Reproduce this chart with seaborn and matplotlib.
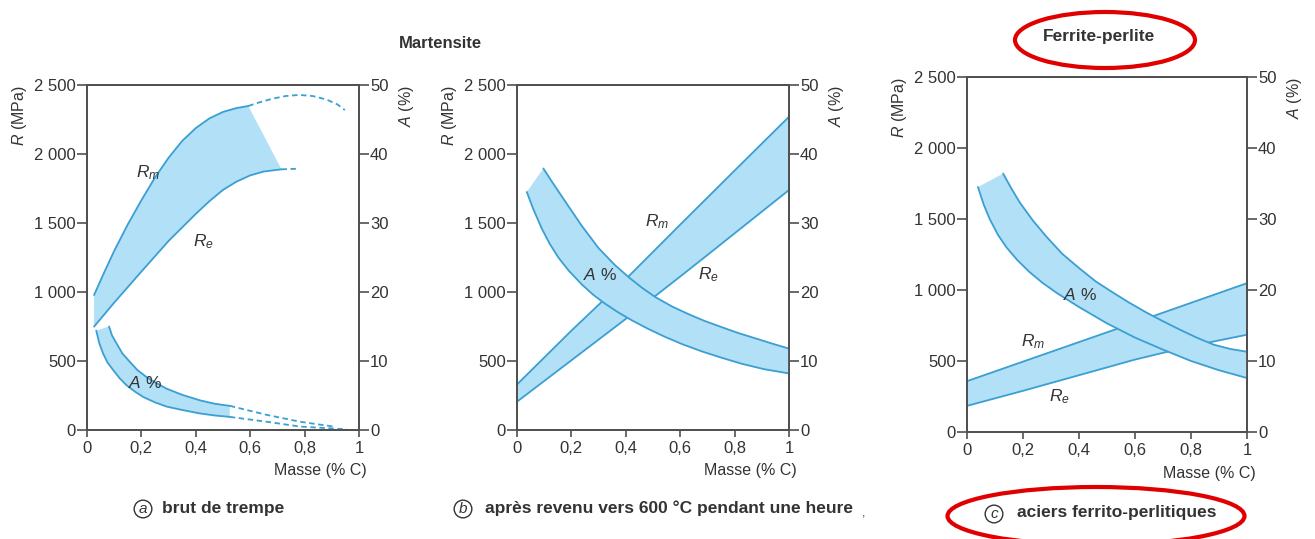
import matplotlib
matplotlib.use("Agg")
import numpy as np
import pandas as pd
import seaborn as sns
import matplotlib.pyplot as plt
from matplotlib.patches import Ellipse

# ---------------- data ----------------
x_ticks = [0, 0.2, 0.4, 0.6, 0.8, 1]
x_ticklabels = ["0", "0,2", "0,4", "0,6", "0,8", "1"]
r_ticks = [0, 500, 1000, 1500, 2000, 2500]
r_ticklabels = ["0", "500", "1 000", "1 500", "2 000", "2 500"]
a_ticks = [0, 10, 20, 30, 40, 50]
a_ticklabels = ["0", "10", "20", "30", "40", "50"]

# (a) brut de trempe
a_rm_x = [0.026, 0.06, 0.10, 0.15, 0.20, 0.25, 0.30, 0.35, 0.40, 0.45, 0.50, 0.55, 0.593]
a_rm_y = [978, 1128, 1298, 1490, 1665, 1830, 1973, 2095, 2188, 2258, 2305, 2333, 2348]
a_rm_dash_x = [0.593, 0.63, 0.68, 0.73, 0.78, 0.83, 0.88, 0.92, 0.948]
a_rm_dash_y = [2348, 2372, 2400, 2420, 2428, 2420, 2395, 2360, 2319]
a_re_x = [0.026, 0.10, 0.20, 0.30, 0.40, 0.45, 0.50, 0.55, 0.60, 0.65, 0.715]
a_re_y = [749, 923, 1148, 1370, 1566, 1658, 1740, 1800, 1845, 1873, 1889]
a_re_dash_x = [0.715, 0.77]
a_re_dash_y = [1889, 1893]
a_alo_x = [0.034, 0.045, 0.059, 0.075, 0.096, 0.12, 0.145, 0.175, 0.206, 0.25, 0.292, 0.35, 0.415, 0.47, 0.525]
a_alo_y = [14.4, 12.6, 11.1, 9.8, 8.7, 7.5, 6.5, 5.6, 4.8, 4.0, 3.4, 2.9, 2.4, 2.1, 1.9]
a_alo_dash_x = [0.525, 0.66, 0.783, 0.955]
a_alo_dash_y = [1.9, 1.2, 0.5, 0.1]
a_ahi_x = [0.081, 0.092, 0.108, 0.13, 0.157, 0.185, 0.218, 0.255, 0.292, 0.35, 0.415, 0.47, 0.525]
a_ahi_y = [15.0, 13.7, 12.6, 11.1, 9.9, 8.7, 7.7, 6.8, 6.0, 5.1, 4.3, 3.8, 3.5]
a_ahi_dash_x = [0.525, 0.66, 0.783, 0.906]
a_ahi_dash_y = [3.5, 2.2, 1.2, 0.5]

# (b) après revenu
b_rm_x = [0, 0.2, 0.409, 0.605, 0.8, 1]
b_rm_y = [330, 720, 1111, 1498, 1880, 2270]
b_re_x = [0, 0.1, 0.2, 0.3, 0.4, 0.5, 0.6, 0.7, 0.8, 0.9, 1]
b_re_y = [205, 355, 505, 655, 805, 958, 1112, 1268, 1425, 1582, 1739]
b_alo_x = [0.036, 0.06, 0.091, 0.12, 0.152, 0.19, 0.238, 0.28, 0.324, 0.37, 0.422, 0.48,
           0.544, 0.61, 0.679, 0.75, 0.826, 0.91, 1]
b_alo_y = [34.5, 32.0, 29.2, 27.0, 25.0, 23.1, 21.1, 19.6, 18.3, 17.1, 15.9, 14.7,
           13.5, 12.4, 11.4, 10.5, 9.6, 8.8, 8.2]
b_ahi_x = [0.097, 0.13, 0.176, 0.238, 0.299, 0.36, 0.415, 0.46, 0.507, 0.57, 0.63, 0.69,
           0.753, 0.81, 0.875, 0.94, 1]
b_ahi_y = [37.9, 35.9, 33.2, 29.6, 26.4, 23.9, 22.0, 20.6, 19.3, 17.9, 16.8, 15.8,
           14.9, 14.1, 13.3, 12.5, 11.8]

# (c) aciers ferrito-perlitiques
c_rm_x = [0, 0.25, 0.5, 0.75, 1]
c_rm_y = [358, 530, 702, 875, 1048]
c_re_x = [0, 0.2, 0.4, 0.6, 0.8, 1]
c_re_y = [184, 290, 400, 510, 605, 685]
c_alo_x = [0.039, 0.06, 0.081, 0.11, 0.141, 0.18, 0.224, 0.27, 0.32, 0.4, 0.5, 0.6,
           0.7, 0.8, 0.9, 1]
c_alo_y = [34.5, 32.0, 30.0, 27.8, 26.0, 24.2, 22.5, 21.0, 19.6, 17.6, 15.3, 13.3,
           11.6, 10.0, 8.7, 7.6]
c_ahi_x = [0.129, 0.16, 0.189, 0.235, 0.284, 0.34, 0.403, 0.46, 0.523, 0.58, 0.642,
           0.7, 0.761, 0.82, 0.881, 0.94, 1]
c_ahi_y = [36.4, 34.2, 32.3, 29.8, 27.5, 25.1, 23.0, 21.2, 19.6, 18.2, 16.8,
           15.6, 14.4, 13.3, 12.3, 11.7, 11.3]

# ---------------- style ----------------
sns.set_theme(style="white")
plt.rcParams["font.family"] = ["Liberation Sans", "DejaVu Sans"]
plt.rcParams["mathtext.fontset"] = "custom"
plt.rcParams["mathtext.it"] = "Liberation Sans:italic"
plt.rcParams["mathtext.rm"] = "Liberation Sans"

FILL = "#b2e0f6"
LINE = "#3a9fd2"
SPINE = "#505050"
TXT = "#333333"
W, H = 1315, 539

fig = plt.figure(figsize=(W / 100, H / 100), dpi=100)


def px_axes(l, t, r, b):
    return fig.add_axes([l / W, 1 - b / H, (r - l) / W, (b - t) / H])


def curve(ax, x, y, dashed=False):
    sns.lineplot(x=x, y=y, ax=ax, color=LINE, lw=1.3, sort=False,
                 estimator=None, legend=False,
                 linestyle=(0, (3, 2)) if dashed else "-")


def band(ax, x1, y1, x2, y2):
    ax.fill(np.r_[x1, x2[::-1]], np.r_[y1, y2[::-1]], color=FILL, lw=0, zorder=1)


def setup(ax, ax2):
    ax.set_xlim(0, 1)
    ax.set_ylim(0, 2500)
    ax2.set_ylim(0, 50)
    ax.set_xticks(x_ticks, x_ticklabels)
    ax.set_yticks(r_ticks, r_ticklabels)
    ax2.set_yticks(a_ticks, a_ticklabels)
    for a in (ax, ax2):
        for s in a.spines.values():
            s.set_visible(True)
            s.set_color(SPINE)
            s.set_linewidth(1.3)
        a.tick_params(direction="out", length=7, width=1.2, color=SPINE,
                      labelsize=12, labelcolor=TXT, pad=1)
    ax.tick_params(axis="x", length=5, pad=3)
    ax.tick_params(axis="y", left=True, right=False)
    ax.tick_params(axis="x", bottom=True)
    ax2.tick_params(axis="y", right=True, left=False)
    ax.set_ylabel(r"$R$ (MPa)", loc="top", fontsize=11.5, color=TXT, labelpad=4)
    ax2.set_ylabel(r"$A$ (%)", loc="top", fontsize=11.5, color=TXT, labelpad=6)
    ax.set_xlabel("Masse (% C)", fontsize=11.5, color=TXT, ha="right")
    ax.xaxis.set_label_coords(1.03, -0.095)
    ax.grid(False)
    ax2.grid(False)


def label(ax, ax2, x, y, s):
    # drawn on the top (twin) axes so the bands never hide it, in R coordinates
    ax2.text(x, y, s, transform=ax.transData, fontsize=12.5, color=TXT,
             ha="center", va="center", zorder=5)


# ---- panel a ----
axa = px_axes(87, 85, 359, 430)
axa2 = axa.twinx()
band(axa, a_rm_x, a_rm_y, a_re_x, a_re_y)
curve(axa, a_rm_x, a_rm_y)
curve(axa, a_rm_dash_x, a_rm_dash_y, dashed=True)
curve(axa, a_re_x, a_re_y)
curve(axa, a_re_dash_x, a_re_dash_y, dashed=True)
band(axa2, a_alo_x, a_alo_y, a_ahi_x, a_ahi_y)
curve(axa2, a_alo_x, a_alo_y)
curve(axa2, a_alo_dash_x, a_alo_dash_y, dashed=True)
curve(axa2, a_ahi_x, a_ahi_y)
curve(axa2, a_ahi_dash_x, a_ahi_dash_y, dashed=True)
setup(axa, axa2)
label(axa, axa2, 0.224, 1868, r"$R_m$")
label(axa, axa2, 0.427, 1365, r"$R_e$")
label(axa, axa2, 0.212, 340, r"$A$ %")

# ---- panel b ----
axb = px_axes(517, 85, 789, 430)
axb2 = axb.twinx()
band(axb, b_rm_x, b_rm_y, b_re_x, b_re_y)
curve(axb, b_rm_x, b_rm_y)
curve(axb, b_re_x, b_re_y)
band(axb2, b_alo_x, b_alo_y, b_ahi_x, b_ahi_y)
curve(axb2, b_alo_x, b_alo_y)
curve(axb2, b_ahi_x, b_ahi_y)
setup(axb, axb2)
label(axb, axb2, 0.514, 1509, r"$R_m$")
label(axb, axb2, 0.305, 1123, r"$A$ %")
label(axb, axb2, 0.703, 1123, r"$R_e$")

# ---- panel c ----
axc = px_axes(967, 77, 1247, 432)
axc2 = axc.twinx()
band(axc, c_rm_x, c_rm_y, c_re_x, c_re_y)
curve(axc, c_rm_x, c_rm_y)
curve(axc, c_re_x, c_re_y)
band(axc2, c_alo_x, c_alo_y, c_ahi_x, c_ahi_y)
curve(axc2, c_alo_x, c_alo_y)
curve(axc2, c_ahi_x, c_ahi_y)
setup(axc, axc2)
label(axc, axc2, 0.403, 963, r"$A$ %")
label(axc, axc2, 0.236, 636, r"$R_m$")
label(axc, axc2, 0.331, 249, r"$R_e$")

# ---------------- titles & captions ----------------
def ftext(x, y, s, **kw):
    fig.text(x / W, 1 - y / H, s, color=TXT, va="center", **kw)


ftext(440, 44, "Martensite", fontsize=12, fontweight="bold", ha="center")
ftext(1099, 36, "Ferrite-perlite", fontsize=12.5, fontweight="bold", ha="center")

circ = dict(boxstyle="circle,pad=0.12", fc="none", ec=TXT, lw=1.0)
ftext(143, 509, "a", fontsize=11, style="italic", ha="center", bbox=circ)
ftext(162, 508, "brut de trempe", fontsize=12.5, fontweight="bold", ha="left")
ftext(463, 509, "b", fontsize=11, style="italic", ha="center", bbox=circ)
ftext(485, 508, "après revenu vers 600 °C pendant une heure",
      fontsize=12.5, fontweight="bold", ha="left")
ftext(864, 513, ",", fontsize=9, ha="center")
ftext(994, 514, "c", fontsize=11, style="italic", ha="center", bbox=circ)
ftext(1017, 513, "aciers ferrito-perlitiques", fontsize=12.5,
      fontweight="bold", ha="left")

for cx, cy, w, h in [(1105, 40, 180, 56), (1096, 516, 297, 58)]:
    e = Ellipse((cx / W, 1 - cy / H), w / W, h / H, transform=fig.transFigure,
                fill=False, ec="#e00000", lw=3, clip_on=False)
    fig.add_artist(e)

fig.savefig("out.png", dpi=100, facecolor="white")
